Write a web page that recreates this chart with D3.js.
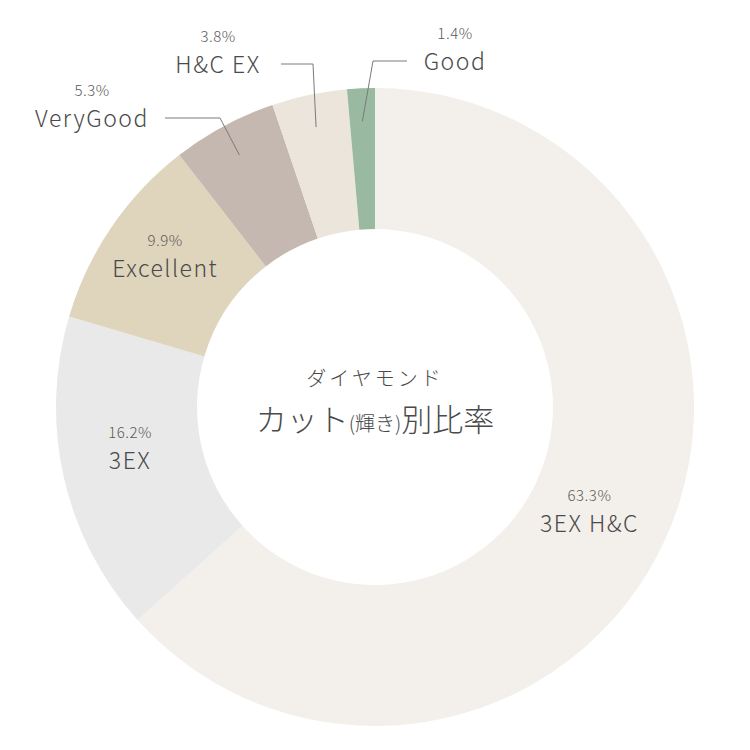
<!DOCTYPE html>
<html>
<head>
<meta charset="utf-8">
<script src="https://cdn.jsdelivr.net/npm/d3@7"></script>
<style>
  body { margin: 0; background: #fff; }
  svg { display: block; font-family: "Noto Sans CJK JP", "Noto Sans", sans-serif; font-weight: 300; }
</style>
</head>
<body>
<svg id="chart" width="750" height="750"></svg>
<script>
// data
var cuts = ["3EX H&C", "3EX", "Excellent", "VeryGood", "H&C EX", "Good"];
var shares = [63.3, 16.2, 9.9, 5.3, 3.8, 1.4];
var colors = ["#f3f0eb", "#e9e9e9", "#dfd4bc", "#c5b8b0", "#ebe5db", "#99b9a1"];

// label placement (inside labels get a nudge, outside ones get a leader line)
var inside_nudge = {"3EX H&C": [-12, 12], "3EX": [-3, -5], "Excellent": [-5, -2]};
var outside = {
    "VeryGood": {knee: [220, 118], end: 165, tx: 92},
    "H&C EX":   {knee: [313, 64],  end: 281, tx: 218},
    "Good":     {knee: [373, 61],  end: 407, tx: 455}
};

var cx = 375, cy = 407, r_out = 319, r_in = 178;

var data = cuts.map(function(c, i){ return {cut: c, share: shares[i], color: colors[i]}; });

var svg = d3.select("#chart");
var g = svg.append("g").attr("transform", "translate(" + cx + "," + cy + ")");

var pie = d3.pie().sort(null).value(d => d.share);
var arc = d3.arc().innerRadius(r_in).outerRadius(r_out);
var mid_arc = d3.arc().innerRadius(248).outerRadius(248);
var lead_arc = d3.arc().innerRadius(286).outerRadius(286);

var arcs = pie(data);

g.selectAll("path.slice")
    .data(arcs)
    .enter()
    .append("path")
    .attr("class", "slice")
    .attr("d", arc)
    .attr("fill", d => d.data.color);

arcs.forEach(function(a){
    var name = a.data.cut;
    var pct = a.data.share.toFixed(1) + "%";
    var lx, ly;
    if (outside[name]) {
        var o = outside[name];
        var p = lead_arc.centroid(a);
        var knee = [o.knee[0] - cx, o.knee[1] - cy];
        g.append("polyline")
            .attr("points", [p, knee, [o.end - cx, knee[1]]].map(q => q.join(",")).join(" "))
            .attr("fill", "none")
            .attr("stroke", "#7a7a7a")
            .attr("stroke-width", 1);
        lx = o.tx - cx;
        ly = knee[1] + 9;
    } else {
        var c = mid_arc.centroid(a);
        var n = inside_nudge[name] || [0, 0];
        lx = c[0] + n[0];
        ly = c[1] + n[1] + 12;
    }
    g.append("text")
        .attr("x", lx)
        .attr("y", ly - 31)
        .attr("text-anchor", "middle")
        .attr("font-size", 15)
        .attr("letter-spacing", 0.5)
        .attr("fill", "#5a5a5a")
        .text(pct);
    g.append("text")
        .attr("x", lx)
        .attr("y", ly)
        .attr("text-anchor", "middle")
        .attr("font-size", 23)
        .attr("letter-spacing", 1.5)
        .attr("fill", "#4a4a4a")
        .text(name);
});

// centre title
g.append("text")
    .attr("x", 0)
    .attr("y", -21)
    .attr("text-anchor", "middle")
    .attr("font-size", 20)
    .attr("letter-spacing", 3)
    .attr("fill", "#4a4a4a")
    .text("ダイヤモンド");

var title = g.append("text")
    .attr("x", 0)
    .attr("y", 24)
    .attr("text-anchor", "middle")
    .attr("font-size", 31)
    .attr("fill", "#4a4a4a");
title.append("tspan").text("カット");
title.append("tspan").attr("font-size", 20).text("(輝き)");
title.append("tspan").text("別比率");
</script>
</body>
</html>
